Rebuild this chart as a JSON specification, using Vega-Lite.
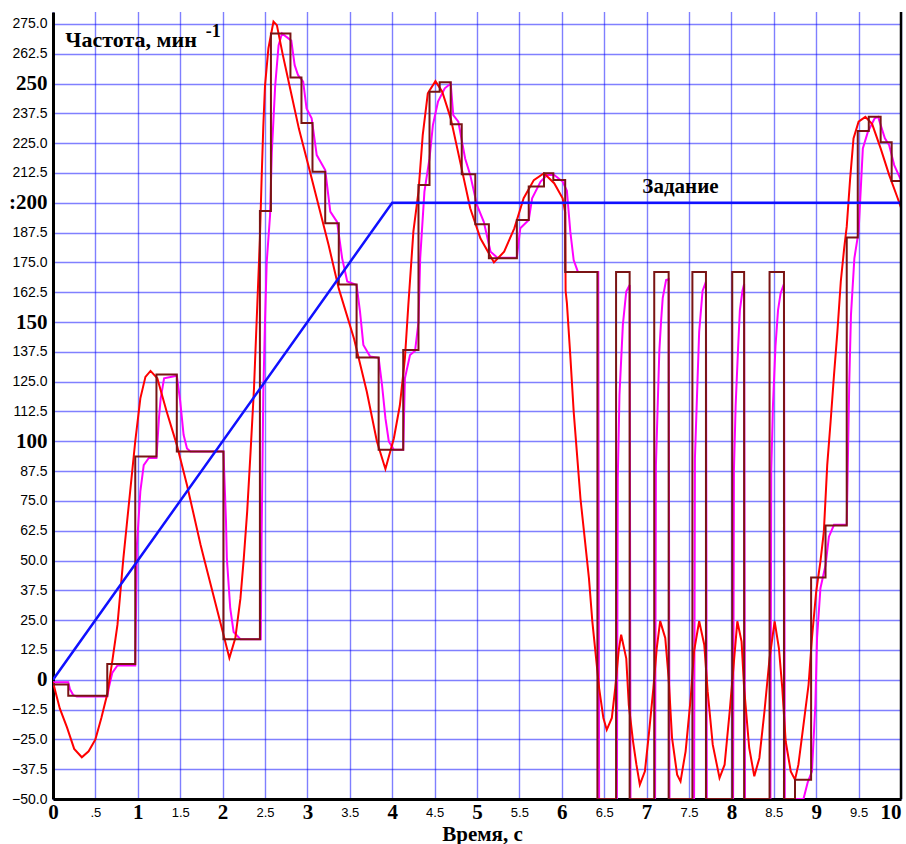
{
  "$schema": "https://vega.github.io/schema/vega-lite/v6.json",
  "width": 848,
  "height": 787,
  "autosize": "none",
  "padding": {"left": 53, "top": 12, "right": 5, "bottom": 45},
  "background": "white",
  "config": {
    "view": {"stroke": null},
    "axis": {
      "labelColor": "#000000",
      "labelOverlap": false,
      "labelFlush": false,
      "ticks": false,
      "domainColor": "#000000",
      "domainWidth": 3,
      "grid": true,
      "gridColor": "#0000ff",
      "gridDash": [1, 1],
      "gridWidth": 1.4
    }
  },
  "resolve": {"axis": {"x": "independent", "y": "independent"}},
  "datasets": {
    "blue": [{"t": 0, "v": 0}, {"t": 4, "v": 200}, {"t": 10, "v": 200}],
    "brown": [
      {"t": 0, "v": -2}, {"t": 0.18, "v": -6.7}, {"t": 0.64, "v": 6.6}, {"t": 0.97, "v": 93.6},
      {"t": 1.22, "v": 128}, {"t": 1.46, "v": 95.7}, {"t": 2.01, "v": 17}, {"t": 2.44, "v": 196.6},
      {"t": 2.57, "v": 271}, {"t": 2.8, "v": 252.5}, {"t": 2.93, "v": 233.5}, {"t": 3.06, "v": 213},
      {"t": 3.21, "v": 191.4}, {"t": 3.37, "v": 165.7}, {"t": 3.58, "v": 135.1}, {"t": 3.84, "v": 96.4},
      {"t": 4.13, "v": 138.3}, {"t": 4.31, "v": 207.5}, {"t": 4.44, "v": 246.6}, {"t": 4.56, "v": 250.5},
      {"t": 4.69, "v": 232.9}, {"t": 4.82, "v": 212}, {"t": 4.98, "v": 191}, {"t": 5.14, "v": 176.7},
      {"t": 5.47, "v": 192.8}, {"t": 5.61, "v": 206.8}, {"t": 5.79, "v": 212.4}, {"t": 5.9, "v": 209.6},
      {"t": 6.04, "v": 171}, {"t": 6.42, "v": -50}, {"t": 6.64, "v": 171}, {"t": 6.8, "v": -50},
      {"t": 7.09, "v": 171}, {"t": 7.26, "v": -50}, {"t": 7.54, "v": 171}, {"t": 7.7, "v": -50},
      {"t": 8.01, "v": 171}, {"t": 8.15, "v": -50}, {"t": 8.45, "v": 171}, {"t": 8.62, "v": -50},
      {"t": 8.75, "v": -41.9}, {"t": 8.94, "v": 42.9}, {"t": 9.11, "v": 64.7}, {"t": 9.36, "v": 185.4},
      {"t": 9.49, "v": 230.1}, {"t": 9.62, "v": 236.1}, {"t": 9.76, "v": 225.4}, {"t": 9.89, "v": 209.1},
      {"t": 10, "v": 209.1}
    ],
    "red": [
      {"t": 0, "v": -1}, {"t": 0.08, "v": -12}, {"t": 0.165, "v": -20}, {"t": 0.25, "v": -29},
      {"t": 0.34, "v": -32.5}, {"t": 0.42, "v": -30}, {"t": 0.5, "v": -25}, {"t": 0.57, "v": -16},
      {"t": 0.64, "v": -6}, {"t": 0.7, "v": 8}, {"t": 0.76, "v": 23}, {"t": 0.83, "v": 51},
      {"t": 0.87, "v": 65}, {"t": 0.91, "v": 79}, {"t": 0.97, "v": 100}, {"t": 1.03, "v": 118},
      {"t": 1.09, "v": 127}, {"t": 1.15, "v": 129.5}, {"t": 1.23, "v": 126.4}, {"t": 1.34, "v": 112.5},
      {"t": 1.46, "v": 98.5}, {"t": 1.58, "v": 81.7}, {"t": 1.74, "v": 56.6}, {"t": 1.78, "v": 51},
      {"t": 1.89, "v": 35.6}, {"t": 2.0, "v": 20.3}, {"t": 2.08, "v": 9.1}, {"t": 2.15, "v": 17.5},
      {"t": 2.21, "v": 34}, {"t": 2.25, "v": 51}, {"t": 2.29, "v": 70.6}, {"t": 2.33, "v": 95.7},
      {"t": 2.37, "v": 122}, {"t": 2.41, "v": 158}, {"t": 2.44, "v": 185}, {"t": 2.46, "v": 210},
      {"t": 2.48, "v": 232}, {"t": 2.5, "v": 249}, {"t": 2.54, "v": 264.7}, {"t": 2.6, "v": 276},
      {"t": 2.64, "v": 274.5}, {"t": 2.71, "v": 262}, {"t": 2.79, "v": 249}, {"t": 2.9, "v": 231},
      {"t": 3.02, "v": 214.5}, {"t": 3.14, "v": 197.7}, {"t": 3.25, "v": 182.3}, {"t": 3.37, "v": 164},
      {"t": 3.55, "v": 143}, {"t": 3.7, "v": 120.9}, {"t": 3.82, "v": 99.9}, {"t": 3.92, "v": 88.4},
      {"t": 4.02, "v": 101.3}, {"t": 4.09, "v": 115}, {"t": 4.15, "v": 134.8}, {"t": 4.19, "v": 157},
      {"t": 4.25, "v": 188}, {"t": 4.31, "v": 204.7}, {"t": 4.36, "v": 228.4}, {"t": 4.42, "v": 245.9},
      {"t": 4.51, "v": 251}, {"t": 4.59, "v": 246.6}, {"t": 4.69, "v": 235.4}, {"t": 4.81, "v": 215.8},
      {"t": 4.92, "v": 197.7}, {"t": 5.04, "v": 185.1}, {"t": 5.2, "v": 175}, {"t": 5.32, "v": 179.5},
      {"t": 5.44, "v": 189.3}, {"t": 5.55, "v": 201.9}, {"t": 5.67, "v": 209.5}, {"t": 5.79, "v": 212.4},
      {"t": 5.91, "v": 208.2}, {"t": 6.01, "v": 201.9}, {"t": 6.04, "v": 196}, {"t": 6.045, "v": 163},
      {"t": 6.06, "v": 158}, {"t": 6.1, "v": 136}, {"t": 6.14, "v": 112.5}, {"t": 6.18, "v": 94.3},
      {"t": 6.22, "v": 76}, {"t": 6.27, "v": 59.4}, {"t": 6.32, "v": 42.6}, {"t": 6.36, "v": 24.5},
      {"t": 6.4, "v": 10.5}, {"t": 6.44, "v": -3.5}, {"t": 6.49, "v": -16}, {"t": 6.53, "v": -21},
      {"t": 6.59, "v": -16}, {"t": 6.63, "v": -3.5}, {"t": 6.67, "v": 12}, {"t": 6.7, "v": 18.9},
      {"t": 6.76, "v": 9}, {"t": 6.79, "v": -10.5}, {"t": 6.84, "v": -25.8}, {"t": 6.88, "v": -35.6},
      {"t": 6.92, "v": -44}, {"t": 6.98, "v": -38.4}, {"t": 7.03, "v": -21.6}, {"t": 7.08, "v": -3.5},
      {"t": 7.12, "v": 13.3}, {"t": 7.16, "v": 24.6}, {"t": 7.22, "v": 17.5}, {"t": 7.26, "v": 0.7},
      {"t": 7.3, "v": -24.4}, {"t": 7.36, "v": -39.8}, {"t": 7.4, "v": -42.6}, {"t": 7.46, "v": -30},
      {"t": 7.52, "v": -7.7}, {"t": 7.56, "v": 12}, {"t": 7.62, "v": 24.6}, {"t": 7.68, "v": 14.7},
      {"t": 7.72, "v": -4.9}, {"t": 7.78, "v": -27.2}, {"t": 7.86, "v": -41.2}, {"t": 7.92, "v": -35.6},
      {"t": 7.98, "v": -13.2}, {"t": 8.02, "v": 3.5}, {"t": 8.07, "v": 24.5}, {"t": 8.12, "v": 16},
      {"t": 8.15, "v": -3.5}, {"t": 8.21, "v": -28.6}, {"t": 8.27, "v": -40.5}, {"t": 8.33, "v": -32.8},
      {"t": 8.39, "v": -13.2}, {"t": 8.45, "v": 9}, {"t": 8.51, "v": 24.5}, {"t": 8.56, "v": 13.3},
      {"t": 8.6, "v": -3.5}, {"t": 8.64, "v": -25.8}, {"t": 8.7, "v": -38.4}, {"t": 8.75, "v": -41.9},
      {"t": 8.79, "v": -35.6}, {"t": 8.85, "v": -18.9}, {"t": 8.91, "v": -2.1}, {"t": 8.95, "v": 17.5},
      {"t": 9.0, "v": 37}, {"t": 9.05, "v": 49.6}, {"t": 9.09, "v": 62}, {"t": 9.13, "v": 90},
      {"t": 9.17, "v": 108.3}, {"t": 9.21, "v": 127.8}, {"t": 9.25, "v": 146}, {"t": 9.29, "v": 167},
      {"t": 9.33, "v": 181}, {"t": 9.36, "v": 190}, {"t": 9.4, "v": 210}, {"t": 9.44, "v": 227},
      {"t": 9.5, "v": 234}, {"t": 9.58, "v": 236}, {"t": 9.66, "v": 233}, {"t": 9.76, "v": 222.8},
      {"t": 9.86, "v": 211.7}, {"t": 9.96, "v": 202}, {"t": 10, "v": 198}
    ],
    "magenta": [
      {"t": 0, "v": -1}, {"t": 0.18, "v": -1}, {"t": 0.2, "v": -4}, {"t": 0.24, "v": -6.5},
      {"t": 0.28, "v": -7}, {"t": 0.64, "v": -7}, {"t": 0.66, "v": -3}, {"t": 0.7, "v": 3},
      {"t": 0.76, "v": 6}, {"t": 0.97, "v": 6}, {"t": 0.99, "v": 56.6}, {"t": 1.03, "v": 79},
      {"t": 1.07, "v": 90}, {"t": 1.13, "v": 93}, {"t": 1.22, "v": 93}, {"t": 1.25, "v": 110},
      {"t": 1.27, "v": 118}, {"t": 1.31, "v": 126.4}, {"t": 1.46, "v": 127.5}, {"t": 1.5, "v": 116.8},
      {"t": 1.54, "v": 102.7}, {"t": 1.58, "v": 97}, {"t": 1.62, "v": 95.7}, {"t": 2.01, "v": 95.7},
      {"t": 2.04, "v": 66.5}, {"t": 2.05, "v": 51}, {"t": 2.09, "v": 30}, {"t": 2.13, "v": 20},
      {"t": 2.21, "v": 17}, {"t": 2.45, "v": 17}, {"t": 2.46, "v": 60}, {"t": 2.48, "v": 120},
      {"t": 2.5, "v": 150}, {"t": 2.52, "v": 175}, {"t": 2.56, "v": 195}, {"t": 2.58, "v": 221},
      {"t": 2.62, "v": 249}, {"t": 2.66, "v": 266}, {"t": 2.7, "v": 271}, {"t": 2.81, "v": 268},
      {"t": 2.85, "v": 257.7}, {"t": 2.89, "v": 253.5}, {"t": 2.95, "v": 250.8}, {"t": 2.99, "v": 239.6},
      {"t": 3.05, "v": 235.4}, {"t": 3.11, "v": 220}, {"t": 3.21, "v": 213.7}, {"t": 3.27, "v": 196.3},
      {"t": 3.35, "v": 192}, {"t": 3.41, "v": 176.7}, {"t": 3.47, "v": 167}, {"t": 3.58, "v": 165.5},
      {"t": 3.62, "v": 154.5}, {"t": 3.66, "v": 140.4}, {"t": 3.74, "v": 135.5}, {"t": 3.84, "v": 135},
      {"t": 3.88, "v": 123.6}, {"t": 3.92, "v": 109.7}, {"t": 3.96, "v": 99.9}, {"t": 4.02, "v": 96.4},
      {"t": 4.13, "v": 96.4}, {"t": 4.15, "v": 126.4}, {"t": 4.21, "v": 136.2}, {"t": 4.27, "v": 138},
      {"t": 4.31, "v": 150}, {"t": 4.33, "v": 176.7}, {"t": 4.38, "v": 204.7}, {"t": 4.44, "v": 218.6},
      {"t": 4.48, "v": 232.6}, {"t": 4.54, "v": 242.4}, {"t": 4.62, "v": 248}, {"t": 4.69, "v": 250},
      {"t": 4.72, "v": 236.8}, {"t": 4.78, "v": 234}, {"t": 4.86, "v": 218.6}, {"t": 4.92, "v": 211.7},
      {"t": 5.0, "v": 199}, {"t": 5.08, "v": 192}, {"t": 5.16, "v": 179.5}, {"t": 5.24, "v": 177},
      {"t": 5.47, "v": 177}, {"t": 5.51, "v": 189.3}, {"t": 5.61, "v": 192.8}, {"t": 5.65, "v": 201.9},
      {"t": 5.75, "v": 208.9}, {"t": 5.83, "v": 211.7}, {"t": 5.91, "v": 211.7}, {"t": 6.01, "v": 208.9},
      {"t": 6.06, "v": 205}, {"t": 6.1, "v": 188}, {"t": 6.14, "v": 176}, {"t": 6.19, "v": 171},
      {"t": 6.43, "v": 171}, {"t": 6.44, "v": -50}, {"t": 6.65, "v": -50}, {"t": 6.66, "v": 84.5},
      {"t": 6.68, "v": 119.4}, {"t": 6.72, "v": 148.8}, {"t": 6.76, "v": 162.8}, {"t": 6.8, "v": 165.5},
      {"t": 6.81, "v": -50}, {"t": 7.1, "v": -50}, {"t": 7.11, "v": 90}, {"t": 7.13, "v": 114},
      {"t": 7.15, "v": 137.7}, {"t": 7.17, "v": 150}, {"t": 7.19, "v": 160}, {"t": 7.23, "v": 167.6},
      {"t": 7.26, "v": 168}, {"t": 7.27, "v": -50}, {"t": 7.56, "v": -50}, {"t": 7.57, "v": 93},
      {"t": 7.6, "v": 125}, {"t": 7.62, "v": 146}, {"t": 7.66, "v": 163}, {"t": 7.7, "v": 167},
      {"t": 7.71, "v": -50}, {"t": 8.02, "v": -50}, {"t": 8.03, "v": 88}, {"t": 8.05, "v": 115},
      {"t": 8.08, "v": 140}, {"t": 8.1, "v": 155}, {"t": 8.13, "v": 163}, {"t": 8.15, "v": 166},
      {"t": 8.16, "v": -50}, {"t": 8.46, "v": -50}, {"t": 8.47, "v": 88}, {"t": 8.49, "v": 115},
      {"t": 8.52, "v": 140}, {"t": 8.55, "v": 155}, {"t": 8.58, "v": 162}, {"t": 8.62, "v": 166},
      {"t": 8.63, "v": -50}, {"t": 8.85, "v": -50}, {"t": 8.9, "v": -43}, {"t": 8.95, "v": -38.4},
      {"t": 8.99, "v": -10.5}, {"t": 9.01, "v": 17.5}, {"t": 9.05, "v": 38.4}, {"t": 9.11, "v": 48},
      {"t": 9.15, "v": 60}, {"t": 9.21, "v": 65}, {"t": 9.36, "v": 65}, {"t": 9.39, "v": 125},
      {"t": 9.41, "v": 153}, {"t": 9.45, "v": 176.7}, {"t": 9.5, "v": 188}, {"t": 9.55, "v": 222.8},
      {"t": 9.61, "v": 229.8}, {"t": 9.69, "v": 235.4}, {"t": 9.73, "v": 236}, {"t": 9.81, "v": 227},
      {"t": 9.86, "v": 224.2}, {"t": 9.92, "v": 215.8}, {"t": 10, "v": 209.5}
    ]
  },
  "layer": [
    {
      "encoding": {
        "x": {
          "field": "t",
          "type": "quantitative",
          "scale": {"domain": [0, 10], "nice": false, "zero": false},
          "axis": {
            "values": [0, 0.5, 1, 1.5, 2, 2.5, 3, 3.5, 4, 4.5, 5, 5.5, 6, 6.5, 7, 7.5, 8, 8.5, 9, 9.5, 10],
            "labelExpr": "datum.value == 0.5 ? '.5' : toString(datum.value)",
            "labelFont": {"condition": {"test": "datum.value % 1 == 0", "value": "Liberation Serif"}, "value": "Liberation Sans"},
            "labelFontSize": {"condition": {"test": "datum.value % 1 == 0", "value": 21}, "value": 13},
            "labelFontWeight": {"condition": {"test": "datum.value % 1 == 0", "value": "bold"}, "value": "normal"},
            "labelAlign": {"condition": {"test": "datum.value == 10", "value": "right"}, "value": "center"},
            "labelBaseline": "middle",
            "labelPadding": 13,
            "title": "Время, с",
            "titleFont": "Liberation Serif",
            "titleFontSize": 21,
            "titleFontWeight": "bold",
            "titleColor": "#000000",
            "titleX": 429,
            "titleY": 41,
            "titleAlign": "center",
            "titleBaseline": "alphabetic"
          }
        },
        "y": {
          "field": "v",
          "type": "quantitative",
          "scale": {"domain": [-50, 280], "nice": false, "zero": false},
          "axis": {
            "values": [-50, -37.5, -25, -12.5, 0, 12.5, 25, 37.5, 50, 62.5, 75, 87.5, 100, 112.5, 125, 137.5, 150, 162.5, 175, 187.5, 200, 212.5, 225, 237.5, 250, 262.5, 275],
            "labelExpr": "datum.value == 200 ? ':200' : (indexof([0, 100, 150, 250], datum.value) >= 0 ? toString(datum.value) : format(datum.value, '.1f'))",
            "labelFont": {"condition": {"test": "indexof([0, 100, 150, 200, 250], datum.value) >= 0", "value": "Liberation Serif"}, "value": "Liberation Sans"},
            "labelFontSize": {"condition": {"test": "indexof([0, 100, 150, 200, 250], datum.value) >= 0", "value": 21}, "value": 14},
            "labelFontWeight": {"condition": {"test": "indexof([0, 100, 150, 200, 250], datum.value) >= 0", "value": "bold"}, "value": "normal"},
            "labelPadding": 6,
            "title": null
          }
        }
      },
      "layer": [
        {"data": {"name": "magenta"}, "mark": {"type": "line", "color": "#ff00ff", "strokeWidth": 2, "clip": true}},
        {"data": {"name": "red"}, "mark": {"type": "line", "color": "#ff0000", "strokeWidth": 2, "clip": true}},
        {"data": {"name": "brown"}, "mark": {"type": "line", "color": "#7a1414", "strokeWidth": 2, "interpolate": "step-after", "clip": true}},
        {"data": {"name": "blue"}, "mark": {"type": "line", "color": "#1010ff", "strokeWidth": 2.5, "clip": true}}
      ]
    },
    {
      "data": {"values": [{"label": "border"}]},
      "mark": {"type": "rule", "color": "#000000", "strokeWidth": 2.5},
      "encoding": {
        "x": {"datum": 10, "type": "quantitative", "axis": null},
        "y": {"datum": -50, "type": "quantitative", "axis": null},
        "y2": {"datum": 280}
      }
    },
    {
      "data": {"values": [{"label": "Задание"}]},
      "mark": {"type": "text", "font": "Liberation Serif", "fontWeight": "bold", "fontSize": 21, "align": "left", "baseline": "alphabetic", "color": "#000000"},
      "encoding": {
        "x": {"datum": 6.95, "type": "quantitative", "axis": null},
        "y": {"datum": 204.2, "type": "quantitative", "axis": null},
        "text": {"field": "label"}
      }
    },
    {
      "data": {"values": [{"label": "Частота, мин"}]},
      "mark": {"type": "text", "font": "Liberation Serif", "fontWeight": "bold", "fontSize": 22, "align": "left", "baseline": "alphabetic", "color": "#000000"},
      "encoding": {
        "x": {"datum": 0.145, "type": "quantitative", "axis": null},
        "y": {"datum": 265.5, "type": "quantitative", "axis": null},
        "text": {"field": "label"}
      }
    },
    {
      "data": {"values": [{"label": "-1"}]},
      "mark": {"type": "text", "font": "Liberation Serif", "fontWeight": "bold", "fontSize": 18, "align": "left", "baseline": "alphabetic", "color": "#000000"},
      "encoding": {
        "x": {"datum": 1.8, "type": "quantitative", "axis": null},
        "y": {"datum": 269.4, "type": "quantitative", "axis": null},
        "text": {"field": "label"}
      }
    }
  ]
}
